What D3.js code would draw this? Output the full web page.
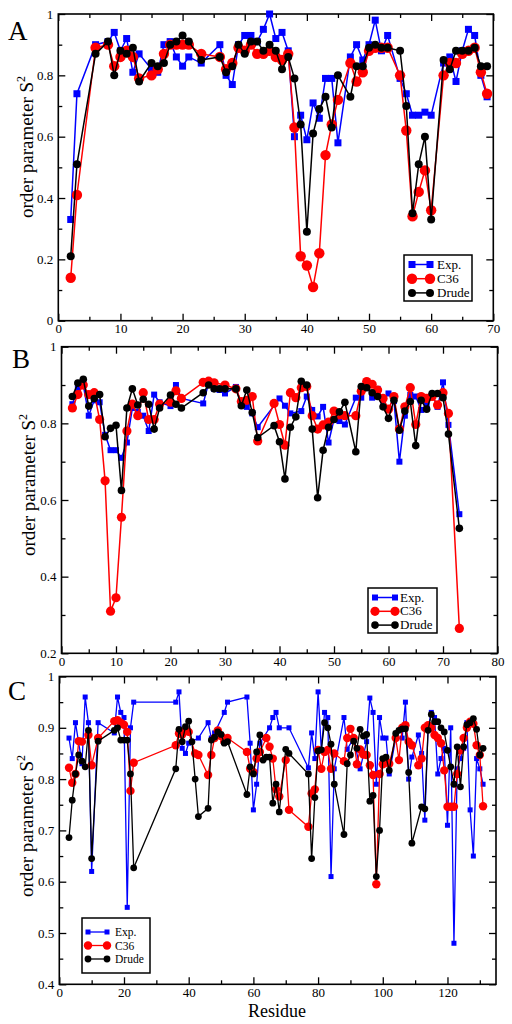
<!DOCTYPE html>
<html><head><meta charset="utf-8">
<script src="https://cdn.jsdelivr.net/npm/d3@7/dist/d3.min.js"></script>
<style>
body{margin:0;background:#fff}
svg text{font-family:"Liberation Serif","Times New Roman",serif;fill:#000}
</style>
</head><body>
<svg id="chart" width="512" height="1024"></svg>
<script>
// ---------------- DATA ----------------
const seriesNames = ["Exp.", "C36", "Drude"];

// Panel A
const aResidues = [2,3,6,8,9,10,11,12,13,15,16,17,18,19,20,21,23,26,27,28,29,30,31,32,33,34,35,36,37,38,39,40,41,42,43,44,45,47,48,49,50,51,52,53,55,56,57,58,59,60,62,63,64,65,66,67,68,69];
const aExp   = [0.33,0.74,0.90,0.91,0.94,0.88,0.92,0.81,0.87,0.82,0.81,0.90,0.91,0.86,0.83,0.86,0.84,0.90,0.80,0.77,0.90,0.93,0.93,0.91,0.95,1.00,0.92,0.94,0.88,0.60,0.67,0.59,0.71,0.66,0.79,0.79,0.58,0.86,0.90,0.85,0.90,0.98,0.88,0.93,0.79,0.74,0.67,0.67,0.68,0.67,0.84,0.86,0.78,0.88,0.95,0.93,0.80,0.73];
const aC36   = [0.14,0.41,0.89,0.90,0.83,0.86,0.88,0.86,0.79,0.80,0.82,0.87,0.90,0.90,0.90,0.90,0.87,0.86,0.82,0.84,0.89,0.88,0.90,0.87,0.87,0.88,0.86,0.85,0.87,0.63,0.21,0.18,0.11,0.22,0.54,0.64,0.72,0.84,0.78,0.81,0.88,0.89,0.89,0.89,0.80,0.62,0.34,0.42,0.49,0.36,0.80,0.84,0.84,0.87,0.88,0.89,0.81,0.74];
const aDrude = [0.21,0.51,0.87,0.91,0.80,0.88,0.87,0.89,0.78,0.84,0.83,0.84,0.90,0.91,0.93,0.91,0.85,0.86,0.81,0.83,0.90,0.87,0.91,0.91,0.88,0.90,0.88,0.82,0.86,0.79,0.64,0.29,0.61,0.69,0.73,0.63,0.80,0.73,0.83,0.83,0.89,0.90,0.89,0.89,0.88,0.70,0.35,0.51,0.60,0.33,0.85,0.82,0.88,0.88,0.88,0.89,0.83,0.83];
const aXTicks = [0,10,20,30,40,50,60,70];
const aYTicks = [0,0.2,0.4,0.6,0.8,1];

// Panel B
const bResidues = [2,3,4,5,6,7,8,9,10,11,12,13,14,15,16,17,18,20,21,22,26,27,28,29,30,32,33,34,35,36,39,40,41,42,43,44,45,46,47,48,49,50,51,52,54,55,56,57,58,59,60,61,62,63,64,65,66,67,68,69,70,71,73];
const bExp   = [0.85,0.89,0.90,0.82,0.86,0.855,0.77,0.73,0.73,0.71,0.75,0.84,0.83,0.82,0.78,0.875,0.855,0.845,0.90,0.865,0.852,0.905,0.89,0.887,0.878,0.895,0.848,0.843,0.826,0.79,null,0.865,0.846,0.826,null,0.832,0.87,0.835,0.818,0.843,0.75,0.81,0.806,0.797,0.867,0.867,0.90,0.867,0.89,0.86,0.878,0.858,0.70,0.82,0.874,0.87,0.835,0.848,0.875,0.843,0.907,0.796,0.563];
const bC36   = [0.84,0.875,0.90,0.875,0.88,0.81,0.65,0.31,0.345,0.555,0.78,0.85,0.82,0.88,0.81,0.81,0.85,0.855,0.885,0.865,0.907,0.91,0.906,null,0.90,0.89,0.857,0.86,0.87,0.754,0.852,0.797,0.743,0.88,0.867,0.893,0.896,0.82,0.785,0.796,0.803,0.832,0.822,0.82,0.82,0.884,0.909,0.902,0.887,0.865,0.837,0.87,0.785,0.843,0.893,0.797,0.87,0.865,0.87,0.848,0.88,0.826,0.265];
const bDrude = [0.87,0.905,0.915,0.845,0.865,0.875,0.765,0.787,0.795,0.625,0.84,0.89,0.848,0.863,0.85,0.785,0.84,0.874,0.85,0.84,0.88,0.90,0.89,0.89,0.89,0.89,0.846,0.887,0.828,0.763,0.794,0.752,0.655,0.79,0.817,0.91,0.90,0.785,0.606,0.73,0.79,0.81,0.83,0.855,0.726,0.896,0.893,0.88,0.87,0.843,0.813,0.86,0.782,0.832,0.857,0.742,0.86,0.837,0.878,0.878,0.867,0.772,0.526];
const bXTicks = [0,10,20,30,40,50,60,70,80];
const bYTicks = [0.2,0.4,0.6,0.8,1];

// Panel C
const cExpRes   = [3,4,5,7,8,9,10,12,17,18,19,20,21,22,23,36,37,38,39,40,43,46,47,48,51,52,58,59,60,61,62,65,66,67,68,71,77,78,79,80,81,82,83,84,85,88,89,91,93,95,96,97,98,99,100,101,102,104,106,107,108,109,111,112,113,114,115,116,117,118,119,120,121,122,123,124,125,126,127,128,129,130,131];
const cExp      = [0.88,0.84,0.91,0.83,0.96,0.91,0.62,0.91,0.89,0.96,0.93,0.92,0.55,0.90,0.95,0.95,0.97,0.86,0.85,0.87,0.88,0.91,0.88,0.89,0.93,0.95,0.96,0.87,0.74,0.79,0.87,0.90,0.92,0.93,0.90,0.90,0.822,0.89,0.84,0.97,0.857,0.93,0.92,0.61,0.82,0.92,0.858,0.88,0.82,0.873,0.958,0.93,0.79,0.92,0.88,0.88,0.81,0.88,0.88,0.95,0.80,0.843,0.886,0.85,0.72,0.90,0.93,0.92,0.81,0.84,0.86,0.71,0.90,0.48,0.82,0.84,0.86,0.91,0.74,0.65,0.84,0.82,0.79];
const cC36Res   = [3,4,5,6,7,9,10,12,17,18,19,20,21,22,23,36,37,38,39,40,42,43,46,47,48,49,50,51,52,58,59,60,61,62,64,65,66,67,68,70,71,77,78,79,80,81,82,83,84,85,88,89,90,91,92,93,94,95,96,97,98,99,100,101,102,104,105,106,107,108,109,111,112,113,114,115,116,117,118,119,120,121,122,123,124,125,126,127,128,129,130,131];
const cC36      = [0.822,0.793,0.81,0.874,0.873,0.886,0.827,0.88,0.913,0.915,0.91,0.906,0.892,0.777,0.832,0.866,0.889,0.887,0.895,0.892,0.85,0.847,0.808,0.847,0.88,0.895,0.884,0.873,0.88,0.853,0.82,0.814,0.84,0.853,0.88,0.863,0.84,0.78,0.766,0.837,0.74,0.707,0.772,0.78,0.857,0.82,0.853,0.857,0.82,0.85,0.835,0.88,0.898,0.88,0.829,0.858,0.848,0.847,0.827,0.808,0.595,0.81,0.829,0.835,0.83,0.88,0.837,0.90,0.905,0.873,0.866,0.827,0.84,0.90,0.905,0.90,0.886,0.88,0.87,0.817,0.746,0.746,0.746,0.81,0.856,0.88,0.90,0.912,0.908,0.866,0.847,0.747];
const cDrudeRes = [3,4,5,6,7,8,9,10,12,17,18,19,20,21,22,23,36,37,38,39,40,41,42,43,46,47,48,49,50,51,52,58,59,60,61,62,63,64,65,66,67,68,70,71,77,78,79,80,81,82,83,84,85,88,89,90,91,92,93,94,95,96,97,98,99,100,101,102,104,105,106,107,108,109,112,113,114,115,116,117,118,119,120,121,122,123,124,125,126,127,128,129,130,131];
const cDrude    = [0.686,0.759,0.81,0.847,0.835,0.824,0.895,0.645,0.874,0.895,0.90,0.876,0.876,0.876,0.81,0.627,0.82,0.897,0.873,0.902,0.913,0.873,0.80,0.727,0.743,0.876,0.882,0.892,0.887,0.87,0.873,0.77,0.824,0.81,0.853,0.886,0.837,0.843,0.843,0.753,0.79,0.736,0.858,0.85,0.81,0.645,0.764,0.855,0.857,0.91,0.90,0.868,0.79,0.692,0.83,0.847,0.874,0.86,0.897,0.884,0.887,0.757,0.768,0.61,0.70,0.84,0.843,0.817,0.889,0.895,0.898,0.898,0.813,0.675,0.746,0.742,0.895,0.926,0.912,0.912,0.90,0.892,0.856,0.824,0.79,0.863,0.785,0.863,0.906,0.91,0.918,0.897,0.847,0.86];
const cXTicks = [0,20,40,60,80,100,120];
const cYTicks = [0.4,0.5,0.6,0.7,0.8,0.9,1];

// ---------------- DRAWING ----------------
const svg = d3.select("#chart");
const colors = {exp:"#0000ff", c36:"#ff0000", drude:"#000000"};
const fmt = v => String(+v.toFixed(2));

function zip(res, vals){ return res.map((r,i)=>({x:r, y:vals[i]})).filter(d=>d.y!=null); }

function panel(cfg){
  const g = svg.append("g");
  const x = d3.scaleLinear().domain(cfg.xDomain).range([cfg.left, cfg.right]);
  const y = d3.scaleLinear().domain(cfg.yDomain).range([cfg.bottom, cfg.top]);
  const maj = 7, mnr = 4;
  const xMinor = d3.range(cfg.xDomain[0], cfg.xDomain[1]+1e-9, cfg.xMinorStep).filter(v=>!cfg.xTicks.some(t=>Math.abs(t-v)<1e-9));
  const yMinor = d3.range(cfg.yDomain[0], cfg.yDomain[1]+1e-9, cfg.yMinorStep).filter(v=>!cfg.yTicks.some(t=>Math.abs(t-v)<1e-9));

  function styleAxis(sel){ sel.select(".domain").remove(); sel.selectAll("line").attr("stroke","#000").attr("stroke-width",1.3); sel.selectAll("text").attr("font-size",13).attr("font-family","Liberation Serif, serif"); }

  g.append("g").attr("transform",`translate(0,${cfg.bottom})`).call(d3.axisBottom(x).tickValues(cfg.xTicks).tickSize(-maj).tickPadding(3).tickFormat(fmt)).call(styleAxis);
  g.append("g").attr("transform",`translate(0,${cfg.bottom})`).call(d3.axisBottom(x).tickValues(xMinor).tickSize(-mnr).tickFormat("")).call(styleAxis);
  g.append("g").attr("transform",`translate(0,${cfg.top})`).call(d3.axisTop(x).tickValues(cfg.xTicks).tickSize(-maj).tickFormat("")).call(styleAxis);
  g.append("g").attr("transform",`translate(0,${cfg.top})`).call(d3.axisTop(x).tickValues(xMinor).tickSize(-mnr).tickFormat("")).call(styleAxis);
  g.append("g").attr("transform",`translate(${cfg.left},0)`).call(d3.axisLeft(y).tickValues(cfg.yTicks).tickSize(-maj).tickPadding(5).tickFormat(fmt)).call(styleAxis);
  g.append("g").attr("transform",`translate(${cfg.left},0)`).call(d3.axisLeft(y).tickValues(yMinor).tickSize(-mnr).tickFormat("")).call(styleAxis);
  g.append("g").attr("transform",`translate(${cfg.right},0)`).call(d3.axisRight(y).tickValues(cfg.yTicks).tickSize(-maj).tickFormat("")).call(styleAxis);
  g.append("g").attr("transform",`translate(${cfg.right},0)`).call(d3.axisRight(y).tickValues(yMinor).tickSize(-mnr).tickFormat("")).call(styleAxis);

  g.append("rect").attr("x",cfg.left).attr("y",cfg.top).attr("width",cfg.right-cfg.left).attr("height",cfg.bottom-cfg.top)
    .attr("fill","none").attr("stroke","#000").attr("stroke-width",1.6);

  const line = d3.line().x(d=>x(d.x)).y(d=>y(d.y));
  const s = cfg.series;
  const defs = [
    {data:s[0], color:colors.exp, shape:"square", size:cfg.sq},
    {data:s[1], color:colors.c36, shape:"circle", size:cfg.rr},
    {data:s[2], color:colors.drude, shape:"circle", size:cfg.rb}
  ];
  defs.forEach(d=>{
    g.append("path").datum(d.data).attr("d",line).attr("fill","none").attr("stroke",d.color).attr("stroke-width",cfg.lw);
    if(d.shape==="square"){
      g.selectAll(null).data(d.data).enter().append("rect")
        .attr("x",p=>x(p.x)-d.size/2).attr("y",p=>y(p.y)-d.size/2).attr("width",d.size).attr("height",d.size).attr("fill",d.color);
    } else {
      g.selectAll(null).data(d.data).enter().append("circle")
        .attr("cx",p=>x(p.x)).attr("cy",p=>y(p.y)).attr("r",d.size).attr("fill",d.color);
    }
  });

  // panel letter
  g.append("text").attr("x",cfg.letterX).attr("y",cfg.letterY).attr("font-size",27).text(cfg.letter);
  // y title
  const t = g.append("text").attr("transform",`translate(${cfg.yTitleX},${cfg.yTitleY}) rotate(-90)`)
    .attr("text-anchor","middle").attr("font-size",19);
  t.append("tspan").text("order parameter S");
  t.append("tspan").attr("font-size",12).attr("dy",-8).text("2");
  // legend
  const L = cfg.legend;
  g.append("rect").attr("x",L.x).attr("y",L.y).attr("width",L.w).attr("height",L.h).attr("fill","#fff").attr("stroke","#000").attr("stroke-width",1.5);
  defs.forEach((d,i)=>{
    const yy = L.y + L.first + i*L.step;
    g.append("line").attr("x1",L.x+L.lx0).attr("x2",L.x+L.lx1).attr("y1",yy).attr("y2",yy).attr("stroke",d.color).attr("stroke-width",cfg.lw);
    [L.x+L.lx0, L.x+L.lx1].forEach(px=>{
      if(d.shape==="square") g.append("rect").attr("x",px-d.size/2).attr("y",yy-d.size/2).attr("width",d.size).attr("height",d.size).attr("fill",d.color);
      else g.append("circle").attr("cx",px).attr("cy",yy).attr("r",d.size).attr("fill",d.color);
    });
    g.append("text").attr("x",L.x+L.tx).attr("y",yy+4).attr("font-size",L.fs).text(seriesNames[i]);
  });
}

panel({
  letter:"A", letterX:8, letterY:40,
  left:58.3, right:493.3, top:14, bottom:320.7,
  xDomain:[0,70], yDomain:[0,1], xTicks:aXTicks, yTicks:aYTicks, xMinorStep:5, yMinorStep:0.1,
  series:[zip(aResidues,aExp), zip(aResidues,aC36), zip(aResidues,aDrude)],
  sq:7, rr:5.2, rb:4, lw:1.5,
  yTitleX:33, yTitleY:147,
  legend:{x:404,y:255,w:68,h:46,first:9.5,step:14.2,lx0:8,lx1:26,tx:33,fs:13}
});
panel({
  letter:"B", letterX:12, letterY:368,
  left:61.5, right:497.5, top:346.7, bottom:653.3,
  xDomain:[0,80], yDomain:[0.2,1], xTicks:bXTicks, yTicks:bYTicks, xMinorStep:5, yMinorStep:0.1,
  series:[zip(bResidues,bExp), zip(bResidues,bC36), zip(bResidues,bDrude)],
  sq:6, rr:4.6, rb:3.8, lw:1.5,
  yTitleX:35, yTitleY:485,
  legend:{x:368,y:588,w:69,h:45,first:9.5,step:13.8,lx0:7,lx1:27,tx:32,fs:13}
});
panel({
  letter:"C", letterX:8, letterY:700,
  left:59.3, right:496, top:676.5, bottom:984.3,
  xDomain:[0,135], yDomain:[0.4,1], xTicks:cXTicks, yTicks:cYTicks, xMinorStep:10, yMinorStep:0.05,
  series:[zip(cExpRes,cExp), zip(cC36Res,cC36), zip(cDrudeRes,cDrude)],
  sq:5, rr:4.2, rb:3.4, lw:1.3,
  yTitleX:33, yTitleY:826,
  legend:{x:82,y:918,w:68,h:55,first:14,step:13.5,lx0:6,lx1:25,tx:33,fs:11.5}
});
// x title
svg.append("text").attr("x",277).attr("y",1017).attr("text-anchor","middle").attr("font-size",18).text("Residue");
</script>
</body></html>
